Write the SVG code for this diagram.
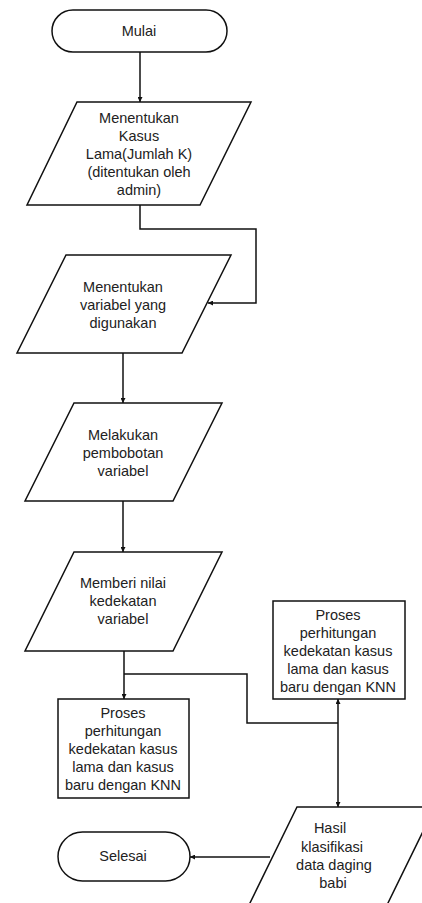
<svg xmlns="http://www.w3.org/2000/svg" width="422" height="903" viewBox="0 0 422 903">
<style>
.s{fill:#fff;stroke:#111;stroke-width:1.5}
.t{font-family:"Liberation Sans",Arial,sans-serif;font-size:14.5px;fill:#222;text-anchor:middle}
.c{fill:none;stroke:#111;stroke-width:1.5}
</style>
<defs>
<marker id="a" viewBox="0 0 10 10" refX="10" refY="5" markerWidth="5" markerHeight="5" orient="auto" markerUnits="userSpaceOnUse">
<path d="M0,0 L10,5 L0,10 z" fill="#111"/>
</marker>
</defs>
<rect width="422" height="903" fill="#fff"/>
<g id="connectors">
<path class="c" d="M140,52 V102" marker-end="url(#a)" style="marker-end:url(#a)"/>
<path class="c" d="M140,205 V229 H256 V303 H208" marker-end="url(#a)"/>
<path class="c" d="M123,353 V403" marker-end="url(#a)"/>
<path class="c" d="M123,501 V552" marker-end="url(#a)"/>
<path class="c" d="M124,651 V699" marker-end="url(#a)"/>
<path class="c" d="M124,674 H247 V723 H338"/>
<path class="c" d="M338,723 V699" marker-end="url(#a)"/>
<path class="c" d="M338,723 V807" marker-end="url(#a)"/>
<path class="c" d="M270,857 H190" marker-end="url(#a)"/>
</g>
<g id="mulai">
<rect class="s" x="52" y="10" width="175" height="42" rx="21"/>
<text class="t" x="139" y="36">Mulai</text>
</g>
<g id="kasus-lama">
<polygon class="s" points="77,102 251,102 200,205 27,205"/>
<text class="t" x="139" y="123">Menentukan</text>
<text class="t" x="139" y="141">Kasus</text>
<text class="t" x="139" y="159">Lama(Jumlah K)</text>
<text class="t" x="139" y="177">(ditentukan oleh</text>
<text class="t" x="139" y="195">admin)</text>
</g>
<g id="variabel">
<polygon class="s" points="66,255 231,255 182,353 17,353"/>
<text class="t" x="123" y="292">Menentukan</text>
<text class="t" x="123" y="310">variabel yang</text>
<text class="t" x="123" y="328">digunakan</text>
</g>
<g id="pembobotan">
<polygon class="s" points="74,403 222,403 173,501 25,501"/>
<text class="t" x="123" y="440">Melakukan</text>
<text class="t" x="123" y="458">pembobotan</text>
<text class="t" x="123" y="476">variabel</text>
</g>
<g id="nilai-kedekatan">
<polygon class="s" points="74,552 222,552 173,651 25,651"/>
<text class="t" x="123" y="588">Memberi nilai</text>
<text class="t" x="123" y="606">kedekatan</text>
<text class="t" x="123" y="624">variabel</text>
</g>
<g id="proses-kiri">
<rect class="s" x="58" y="699" width="131" height="99"/>
<text class="t" x="123" y="718">Proses</text>
<text class="t" x="123" y="736">perhitungan</text>
<text class="t" x="123" y="754">kedekatan kasus</text>
<text class="t" x="123" y="772">lama dan kasus</text>
<text class="t" x="123" y="790">baru dengan KNN</text>
</g>
<g id="proses-kanan">
<rect class="s" x="273" y="601" width="132" height="98"/>
<text class="t" x="338" y="620">Proses</text>
<text class="t" x="338" y="638">perhitungan</text>
<text class="t" x="338" y="656">kedekatan kasus</text>
<text class="t" x="338" y="674">lama dan kasus</text>
<text class="t" x="338" y="692">baru dengan KNN</text>
</g>
<g id="hasil">
<polygon class="s" points="297,807 435,807 387,905 249,905"/>
<text class="t" x="330" y="833">Hasil</text>
<text class="t" x="332" y="852">klasifikasi</text>
<text class="t" x="334" y="870">data daging</text>
<text class="t" x="333" y="888">babi</text>
</g>
<g id="selesai">
<rect class="s" x="58" y="832" width="132" height="49" rx="24.5"/>
<text class="t" x="123" y="861">Selesai</text>
</g>
</svg>
